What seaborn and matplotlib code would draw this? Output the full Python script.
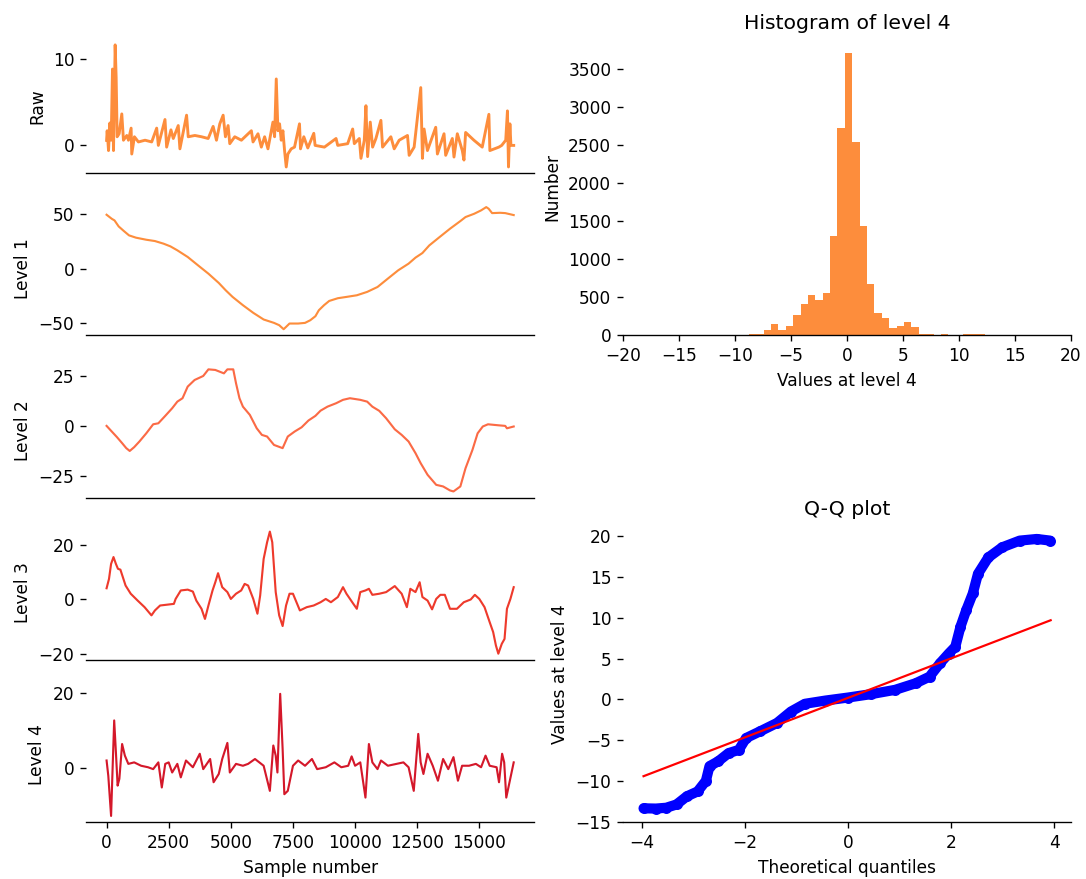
import numpy as np
import pandas as pd
import matplotlib
matplotlib.use("Agg")
import matplotlib.pyplot as plt
import seaborn as sns

# ---------------- data ----------------
raw_x = [0, 24, 78, 132, 185, 238, 278, 345, 385, 425, 505, 612, 679, 813, 880, 987, 1013, 1120,
         1281, 1548, 1815, 2016, 2083, 2350, 2417, 2590, 2684, 2884, 2951, 3219, 3286, 3553, 3821,
         4088, 4288, 4422, 4556, 4690, 4783, 4890, 4957, 5157, 5425, 5826, 5893, 6093, 6227, 6360,
         6494, 6694, 6761, 6828, 6895, 6961, 7028, 7095, 7162, 7229, 7296, 7429, 7563, 7763, 7803,
         7937, 8097, 8338, 8391, 8766, 9234, 9301, 9702, 9903, 9969, 10170, 10237, 10370, 10437,
         10504, 10611, 10705, 10838, 11039, 11106, 11440, 11574, 11774, 12109, 12176, 12376, 12643,
         12710, 12777, 12911, 13245, 13312, 13579, 13646, 13913, 13980, 14114, 14314, 14381, 14448,
         14782, 15117, 15384, 15424, 15785, 15900, 16062, 16131, 16173, 16230, 16271, 16383]
raw_y = [0.58, 1.7, -0.6, 2.6, 0.6, 8.85, -0.6, 11.65, 7.9, 1.0, 1.35, 3.65, 0.6, 1.15, 0.6, 2.0, -1.0, 1.0,
         0.4, 0.6, 0.4, 2.0, 0.0, 3.0, -0.2, 1.8, 0.8, 2.3, -0.4, 3.5, 1.0, 1.15, 1.0,
         0.8, 2.2, 0.6, 2.5, 3.5, 1.0, 2.3, 0.2, 1.0, 0.6, 1.7, 0.4, 1.35, -0.2, 1.0,
         -0.4, 2.7, 1.0, 7.7, 1.7, 2.5, 0.6, 1.7, -0.6, -2.5, -1.0, -0.4, -0.2, 2.5, -0.4,
         1.0, -0.3, 1.4, 0.0, -0.2, 0.8, 0.0, 0.2, 1.9, 0.2, 0.8, -1.5, 0.6, 4.6,
         -1.3, 2.7, -0.2, 0.8, 2.9, -0.2, 1.0, -0.4, 0.6, 1.15, -1.15, -0.2, 6.7,
         -1.5, 1.9, -0.6, 2.1, -1.0, 1.35, -1.15, 0.8, -1.35, 1.35, -0.6, -1.7, 1.5,
         0.6, -0.2, 3.6, -0.6, -0.2, 0.0, 0.6, 4.0, -2.5, 2.5, 0.0, 0.0]

lvl1_x = [0, 208, 319, 486, 694, 903, 1181, 1597, 1944, 2292, 2570, 2847, 3264, 3681, 4098, 4514,
          4792, 5070, 5486, 5903, 6320, 6737, 6945, 7125, 7222, 7361, 7708, 7986, 8195, 8403, 8542,
          8750, 8958, 9306, 9653, 10070, 10486, 10903, 11320, 11736, 12153, 12431, 12709, 12986,
          13403, 13820, 14236, 14445, 14792, 15070, 15278, 15375, 15514, 15834, 16042, 16383]
lvl1_y = [49.4, 45.7, 44.2, 38.7, 34.5, 30.5, 28.4, 26.5, 25.3, 22.9, 20.4, 16.8, 10.7, 3.0, -4.6, -13.1,
          -19.8, -25.9, -33.5, -40.5, -46.6, -49.7, -51.8, -55.5, -53.4, -50.3, -50.3, -49.7, -47.3, -43.6, -38.1,
          -33.5, -29.6, -27.1, -25.9, -24.4, -21.3, -16.8, -9.1, -1.5, 4.6, 10.1, 14.3, 21.3,
          29.0, 36.6, 43.6, 47.3, 50.3, 53.4, 56.4, 54.9, 50.9, 51.2, 50.9, 49.1]

lvl2_x = [0, 208, 417, 625, 792, 931, 1111, 1320, 1597, 1875, 2083, 2361, 2639, 2847, 3056, 3264,
          3542, 3889, 4098, 4375, 4722, 4861, 5097, 5208, 5347, 5486, 5764, 6042, 6250, 6459, 6737,
          7084, 7292, 7570, 7848, 8125, 8403, 8611, 8889, 9236, 9514, 9792, 10209, 10486, 10695,
          10973, 11250, 11597, 11875, 12153, 12431, 12639, 12917, 13264, 13542, 13820, 13959, 14236,
          14445, 14722, 14931, 15139, 15348, 15764, 16042, 16111, 16383]
lvl2_y = [0.0, -2.8, -5.6, -8.6, -11.1, -12.5, -10.6, -7.8, -3.7, 0.8, 1.3, 5.0, 8.8, 12.1, 13.8, 19.6,
          22.9, 24.9, 28.2, 27.9, 26.2, 28.2, 28.2, 21.3, 13.8, 9.6, 5.5, -1.2, -4.5, -5.3, -9.5,
          -11.1, -5.3, -2.8, -0.7, 2.7, 5.0, 7.6, 9.6, 11.3, 13.0, 13.8, 13.0, 12.1, 9.6,
          7.5, 3.8, -1.7, -4.5, -7.8, -13.6, -18.6, -24.4, -29.4, -30.2, -32.2, -32.7, -30.2,
          -21.1, -12.0, -3.7, -0.3, 0.8, 0.3, 0.0, -1.2, -0.3]

lvl3_x = [0, 97, 181, 278, 375, 458, 556, 653, 764, 972, 1250, 1528, 1806, 1945, 2153, 2431, 2708,
          2778, 2986, 3264, 3472, 3611, 3820, 3959, 4098, 4264, 4375, 4486, 4653, 4861, 5000, 5208,
          5417, 5556, 5695, 5903, 6070, 6181, 6320, 6459, 6570, 6667, 6806, 6945, 7084, 7222, 7361,
          7500, 7778, 8056, 8334, 8611, 8820, 9028, 9306, 9514, 9653, 9931, 10070, 10209, 10417,
          10556, 10695, 10973, 11250, 11597, 11875, 12084, 12223, 12431, 12598, 12709, 12917, 13098,
          13264, 13431, 13611, 13820, 14098, 14375, 14653, 14820, 15000, 15209, 15417, 15556, 15667,
          15764, 15903, 16014, 16111, 16250, 16383]
lvl3_y = [4.1, 7.5, 13.0, 15.5, 13.0, 11.2, 10.9, 8.2, 5.1, 2.1, -0.4, -2.8, -5.8, -4.0, -2.2, -1.9, -1.6,
          0.2, 3.3, 3.6, 2.9, -0.4, -3.4, -7.1, -2.2, 3.3, 6.3, 9.6, 4.5, 2.7, 0.2, 2.1,
          3.3, 5.7, 5.1, 0.2, -5.2, 1.5, 14.8, 20.9, 24.8, 20.9, 2.7, -5.8, -9.7, -2.2, 2.1,
          2.1, -4.0, -2.8, -2.2, -1.0, 0.2, -1.0, 0.9, 4.5, 2.1, -1.6, -3.4, 2.7, 3.3,
          3.9, 1.7, 2.1, 2.7, 4.9, 2.1, -2.8, 3.9, 2.7, 6.3, 0.9, -0.4, -3.6,
          0.2, 1.7, 1.7, -3.4, -3.4, -1.0, 0.0, 1.7, 0.2, -2.8, -8.3, -11.9, -16.8,
          -19.8, -16.2, -14.4, -3.4, 0.2, 4.5]

lvl4_x = [0, 69, 181, 250, 306, 375, 444, 514, 625, 736, 875, 1111, 1389, 1667, 1875, 2083, 2222,
          2361, 2500, 2639, 2847, 2986, 3195, 3472, 3750, 3889, 4167, 4306, 4514, 4653, 4861, 4959,
          5208, 5486, 5695, 5972, 6320, 6570, 6709, 6806, 6875, 6986, 7084, 7153, 7292, 7500, 7709,
          7986, 8264, 8473, 8820, 9167, 9445, 9723, 9861, 10000, 10209, 10417, 10556, 10695, 10903,
          11042, 11320, 11667, 11945, 12153, 12361, 12542, 12639, 12750, 12917, 13125, 13334, 13542,
          13750, 13959, 14139, 14306, 14584, 14861, 15070, 15250, 15417, 15695, 15792, 15917, 16000,
          16084, 16383]
lvl4_y = [2.0, -2.1, -12.8, 1.5, 12.7, 4.2, -4.7, -2.9, 6.4, 3.3, 1.1, 1.5, 0.6, 0.2, -0.3, 1.5, -5.2,
          1.1, 1.5, -1.2, 1.1, -2.5, 2.0, 0.2, 3.8, -0.3, 2.4, -3.8, -1.6, 2.4, 6.7, -1.2,
          1.1, 0.6, 1.1, 2.4, 0.6, -6.1, 6.0, 3.3, -1.2, 19.8, 5.1, -7.0, -6.1, 0.6, 2.0,
          0.6, 2.4, -0.3, 0.2, 1.5, 0.2, 0.6, 3.1, 0.6, 1.5, -7.9, 6.4, 1.5, -0.3,
          2.0, 0.6, 1.1, 1.5, 0.2, -6.1, 9.1, 1.5, -1.6, 3.8, 0.6, -3.4, 2.4,
          -0.3, 2.9, -3.4, 0.6, 0.6, 1.1, 0.2, 3.3, 0.6, 0.2, -3.8, 3.8, 1.5,
          -7.9, 1.5]

# histogram of level 4: 50 bins over the data range, counts per bin
hist_lo, hist_hi, hist_nbins = -13.4, 19.6, 50
hist_counts = [1, 1, 2, 2, 3, 4, 6, 22, 22, 74, 144, 74, 127, 262, 410, 524, 458, 558, 1305, 2723,
               3705, 2540, 1436, 672, 292, 223, 92, 127, 175, 109, 22, 22, 4, 12, 3, 4, 12, 12, 12, 3,
               2, 2, 1, 1, 1, 2, 2, 3, 4, 6]

# Q-Q plot (theoretical quantile, ordered value of level 4)
qq_theo = [-3.97, -3.73, -3.53, -3.33, -3.13, -2.92, -2.76, -2.69, -2.52, -2.32, -2.12, -1.98, -1.71,
           -1.38, -1.11, -0.84, -0.44, 0.00, 0.44, 0.91, 1.31, 1.58, 1.78, 1.95, 2.08, 2.18, 2.29,
           2.42, 2.52, 2.72, 2.99, 3.33, 3.66, 3.92]
qq_vals = [-13.37, -13.4, -13.3, -12.9, -11.9, -11.3, -10.0, -8.2, -7.6, -6.6, -6.2, -4.75, -3.93,
           -2.9, -1.5, -0.55, -0.15, 0.22, 0.63, 1.16, 1.97, 2.78, 4.4, 5.6, 6.45, 8.9, 10.9,
           13.0, 15.4, 17.4, 18.65, 19.47, 19.67, 19.47]
qq_line_x = [-3.97, 3.93]
qq_line_y = [-9.43, 9.70]

series_names = ["Raw", "Level 1", "Level 2", "Level 3", "Level 4"]
series_x = [raw_x, lvl1_x, lvl2_x, lvl3_x, lvl4_x]
series_y = [raw_y, lvl1_y, lvl2_y, lvl3_y, lvl4_y]
series_yticks = [[0, 10], [-50, 0, 50], [-25, 0, 25], [-20, 0, 20], [0, 20]]
series_colors = ["#fd8d3c", "#fd8d3c", "#fb6a45", "#ee3a2c", "#d4182a"]
series_lw = [1.7, 1.25, 1.25, 1.25, 1.25]
qq_xticks = [-4, -2, 0, 2, 4]

# ---------------- figure ----------------
DPI = 122
fig = plt.figure(figsize=(1086 / DPI, 879 / DPI), dpi=DPI)
gs = fig.add_gridspec(5, 2, left=0.0794, right=0.9862, top=0.9559, bottom=0.0648,
                      hspace=0.208, wspace=0.199)

for i, name in enumerate(series_names):
    ax = fig.add_subplot(gs[i, 0])
    sns.lineplot(x=series_x[i], y=series_y[i], ax=ax, color=series_colors[i],
                 linewidth=series_lw[i])
    ax.set_ylabel(name)
    ax.set_yticks(series_yticks[i])
    sns.despine(ax=ax, left=True)
    if i < 4:
        ax.tick_params(axis="x", bottom=False, labelbottom=False)
        ax.set_xlabel("")
    else:
        ax.set_xlabel("Sample number")

# histogram
axh = fig.add_subplot(gs[0:2, 1])
edges = np.linspace(hist_lo, hist_hi, hist_nbins + 1)
hist_df = pd.DataFrame({"center": 0.5 * (edges[:-1] + edges[1:]), "count": hist_counts})
sns.histplot(data=hist_df, x="center", weights="count", bins=list(edges), ax=axh,
             color="#fd8d3c", alpha=1.0, linewidth=0)
axh.set_xlim(-20, 20)
axh.set_title("Histogram of level 4")
axh.set_xlabel("Values at level 4")
axh.set_ylabel("Number")
sns.despine(ax=axh, left=True)

# Q-Q plot
axq = fig.add_subplot(gs[3:5, 1])
sns.lineplot(x=qq_theo, y=qq_vals, ax=axq, color="#0000ff", linewidth=6.0,
             solid_capstyle="round", sort=False)
sns.scatterplot(x=qq_theo, y=qq_vals, ax=axq, color="#0000ff", s=42, linewidth=0)
sns.lineplot(x=qq_line_x, y=qq_line_y, ax=axq, color="#ff0000", linewidth=1.3)
axq.set_xticks(qq_xticks)
axq.set_title("Q-Q plot")
axq.set_xlabel("Theoretical quantiles")
axq.set_ylabel("Values at level 4")
sns.despine(ax=axq, left=True)

fig.savefig("out.png", dpi=DPI)
